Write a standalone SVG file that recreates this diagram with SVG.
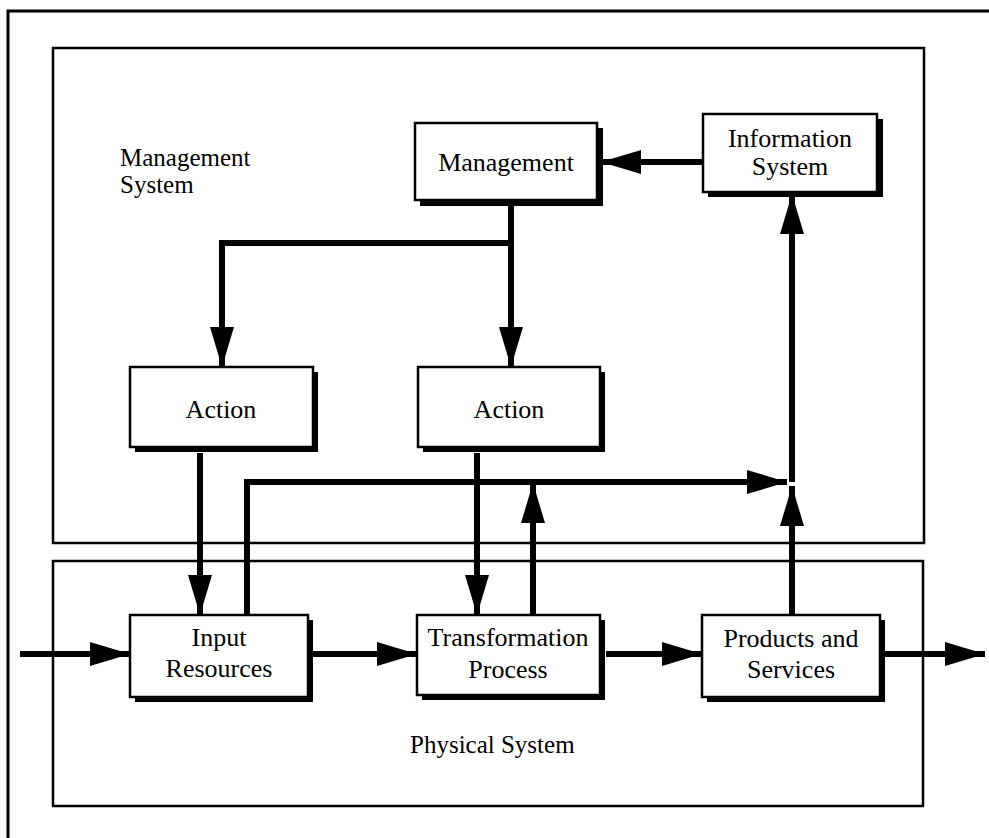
<svg xmlns="http://www.w3.org/2000/svg" width="989" height="838" viewBox="0 0 989 838">
<defs>
<style>
.frame{fill:none;stroke:#000;stroke-width:3}
.sys{fill:none;stroke:#000;stroke-width:2.5}
.box{fill:#fff;stroke:#000;stroke-width:2.5}
.sh{fill:#000}
.t{font-family:"Liberation Serif","Times New Roman",serif;font-size:26px;fill:#000;text-anchor:middle}
.lbl{font-family:"Liberation Serif","Times New Roman",serif;font-size:25px;fill:#000}
.c{fill:none;stroke:#000;stroke-width:6}
</style>
<marker id="ah" markerUnits="userSpaceOnUse" markerWidth="42" markerHeight="24" refX="40" refY="12" orient="auto">
<path d="M0,0 L40,12 L0,24 Z" fill="#000"/>
</marker>
</defs>
<rect width="989" height="838" fill="#fff"/>
<path class="frame" d="M8,840 L8,11 L992,11"/>
<rect class="sys" x="53" y="48" width="871" height="495"/>
<rect class="sys" x="53" y="561" width="870" height="245"/>
<text class="lbl" x="120" y="166">Management</text>
<text class="lbl" x="120" y="193">System</text>
<text class="lbl" x="410" y="753">Physical System</text>

<g id="connectors">
<path class="c" d="M20,654 L130,654" marker-end="url(#ah)"/>
<path class="c" d="M310,654 L417,654" marker-end="url(#ah)"/>
<path class="c" d="M606,654 L702,654" marker-end="url(#ah)"/>
<path class="c" d="M885,654 L985,654" marker-end="url(#ah)"/>
<path class="c" d="M792,615 L792,486" marker-end="url(#ah)"/>
<path class="c" d="M792,482 L792,194" marker-end="url(#ah)"/>
<path class="c" d="M247,615 L247,482 L787,482" marker-end="url(#ah)"/>
<path class="c" d="M533,615 L533,483" marker-end="url(#ah)"/>
<path class="c" d="M477,453 L477,615" marker-end="url(#ah)"/>
<path class="c" d="M200,453 L200,615" marker-end="url(#ah)"/>
<path class="c" d="M511,205 L511,367" marker-end="url(#ah)"/>
<path class="c" d="M511,243 L222,243 L222,367" marker-end="url(#ah)"/>
<path class="c" d="M703,162 L601,162" marker-end="url(#ah)"/>
</g>

<g id="management">
<rect class="sh" x="420" y="128" width="183" height="78"/>
<rect class="box" x="415" y="123" width="182" height="77"/>
<text class="t" x="506" y="171">Management</text>
</g>
<g id="information-system">
<rect class="sh" x="708" y="119" width="175" height="78"/>
<rect class="box" x="703" y="114" width="174" height="78"/>
<text class="t" x="790" y="147">Information</text>
<text class="t" x="790" y="175">System</text>
</g>
<g id="action-1">
<rect class="sh" x="135" y="372" width="183" height="80"/>
<rect class="box" x="130" y="367" width="183" height="80"/>
<text class="t" x="221" y="418">Action</text>
</g>
<g id="action-2">
<rect class="sh" x="423" y="372" width="182" height="80"/>
<rect class="box" x="418" y="367" width="182" height="80"/>
<text class="t" x="509" y="418">Action</text>
</g>
<g id="input-resources">
<rect class="sh" x="135" y="620" width="178" height="82"/>
<rect class="box" x="130" y="615" width="178" height="82"/>
<text class="t" x="219" y="646">Input</text>
<text class="t" x="219" y="677">Resources</text>
</g>
<g id="transformation-process">
<rect class="sh" x="422" y="620" width="183" height="80"/>
<rect class="box" x="417" y="615" width="183" height="80"/>
<text class="t" x="508" y="646">Transformation</text>
<text class="t" x="508" y="678">Process</text>
</g>
<g id="products-services">
<rect class="sh" x="707" y="620" width="178" height="82"/>
<rect class="box" x="702" y="615" width="178" height="82"/>
<text class="t" x="791" y="647">Products and</text>
<text class="t" x="791" y="678">Services</text>
</g>
</svg>
